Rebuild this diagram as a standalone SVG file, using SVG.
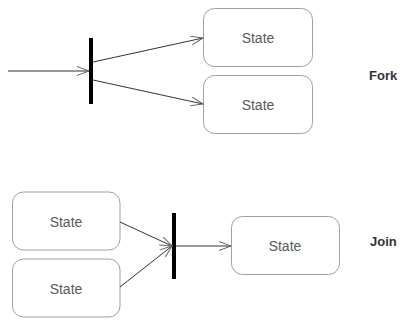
<svg xmlns="http://www.w3.org/2000/svg" width="414" height="330" viewBox="0 0 414 330">
<style>
.state rect{fill:#fff;stroke:#a0a0a0;stroke-width:1}
.state text{font-family:"Liberation Sans",Arial,sans-serif;font-size:14px;fill:#5a5a5a;text-anchor:middle}
.bar{fill:#000}
.conn line{stroke:#333;stroke-width:1;fill:none}
.label{font-family:"Liberation Sans",Arial,sans-serif;font-size:13px;font-weight:bold;fill:#333}
</style>
<defs>
<marker id="open" markerUnits="userSpaceOnUse" markerWidth="14" markerHeight="12" refX="12" refY="5" orient="auto">
<path d="M0,0.5 L12,5 L0,9.5" fill="none" stroke="#666" stroke-width="1"/>
</marker>
</defs>
<rect width="414" height="330" fill="#fff"/>
<g id="fork-bar"><rect class="bar" x="89" y="38" width="4" height="66"/></g>
<g id="fork-state1" class="state"><rect x="203.5" y="8.5" width="109" height="58" rx="11"/><text x="258" y="43">State</text></g>
<g id="fork-state2" class="state"><rect x="203.5" y="75.5" width="109" height="58" rx="11"/><text x="258" y="110">State</text></g>
<g id="join-state1" class="state"><rect x="12.5" y="192" width="107.5" height="58" rx="11"/><text x="66" y="227">State</text></g>
<g id="join-state2" class="state"><rect x="12.5" y="259" width="107.5" height="58" rx="11"/><text x="66" y="294">State</text></g>
<g id="join-bar"><rect class="bar" x="172" y="213" width="4" height="66"/></g>
<g id="join-state3" class="state"><rect x="231.5" y="216.5" width="108" height="58" rx="11"/><text x="285" y="251">State</text></g>
<g id="connectors" class="conn">
<line x1="8" y1="71" x2="89" y2="71" marker-end="url(#open)"/>
<line x1="93" y1="62" x2="203" y2="38" marker-end="url(#open)"/>
<line x1="93" y1="80" x2="203" y2="104" marker-end="url(#open)"/>
<line x1="120" y1="222" x2="172" y2="246" marker-end="url(#open)"/>
<line x1="120" y1="287" x2="172" y2="246" marker-end="url(#open)"/>
<line x1="176" y1="246" x2="231" y2="246" marker-end="url(#open)"/>
</g>
<text class="label" x="369" y="80">Fork</text>
<text class="label" x="370" y="246">Join</text>
</svg>
